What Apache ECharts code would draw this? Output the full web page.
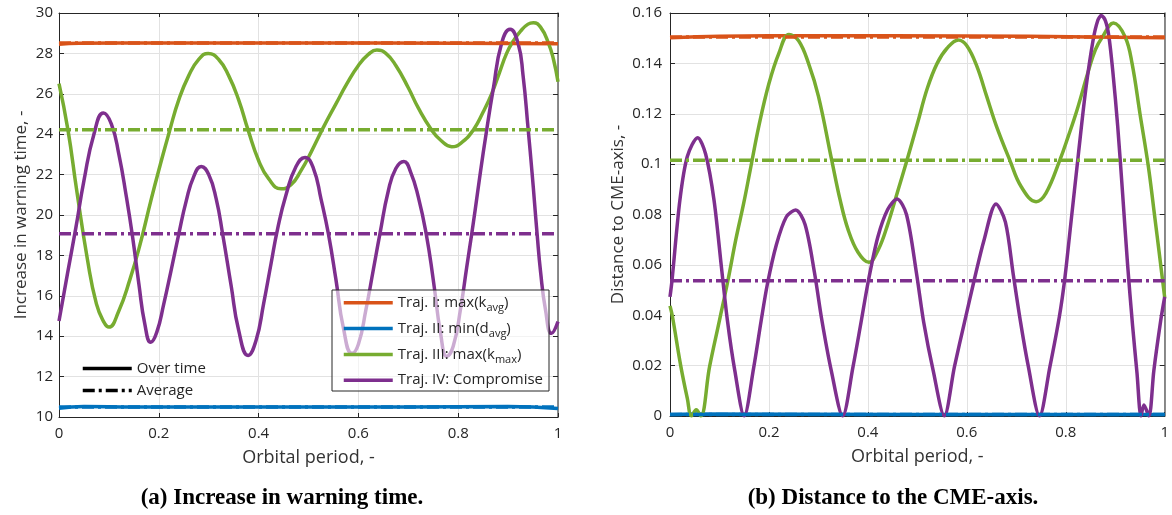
<!DOCTYPE html>
<html><head><meta charset="utf-8">
<script src="https://cdn.jsdelivr.net/npm/echarts@6/dist/echarts.min.js"></script>
<style>html,body{margin:0;padding:0;background:#fff}#c{width:1172px;height:515px}</style>
</head><body><div id="c"></div>
<script>
// ---------- data ----------
const trajNames = ['Traj. I: max(k_avg)', 'Traj. II: min(d_avg)', 'Traj. III: max(k_max)', 'Traj. IV: Compromise'];
const trajRich = ['{t|Traj. I: max(k}{s|avg}{t|)}', '{t|Traj. II: min(d}{s|avg}{t|)}', '{t|Traj. III: max(k}{s|max}{t|)}', '{t|Traj. IV: Compromise}'];
const styleNames = ['Over time', 'Average'];
const colors = ['#D95319', '#0072BD', '#77AC30', '#7E2F8E'];

// (a) increase in warning time  [orbital period, value]
const warnI = [[0,28.45],[0.04,28.5],[0.2,28.52],[0.5,28.52],[0.8,28.5],[1,28.48]];
const warnII = [[0,10.43],[0.05,10.52],[0.15,10.5],[0.4,10.5],[0.7,10.5],[0.9,10.52],[1,10.42]];
const warnIII = [[0,26.5],[0.018,24.2],[0.035,21.3],[0.057,17.8],[0.075,15.6],[0.09,14.7],[0.10,14.45],[0.119,15.2],[0.142,16.8],[0.162,18.5],[0.185,20.8],[0.202,22.4],[0.222,24.2],[0.24,25.7],[0.26,26.9],[0.28,27.7],[0.299,28.0],[0.32,27.7],[0.34,26.9],[0.36,25.7],[0.379,24.2],[0.40,22.7],[0.42,21.8],[0.445,21.3],[0.465,21.5],[0.485,22.2],[0.505,23.1],[0.529,24.3],[0.555,25.5],[0.577,26.5],[0.60,27.4],[0.62,27.95],[0.637,28.17],[0.655,28.0],[0.675,27.4],[0.70,26.3],[0.72,25.3],[0.747,24.2],[0.765,23.7],[0.787,23.38],[0.805,23.55],[0.83,24.2],[0.85,25.1],[0.867,26.0],[0.882,27.0],[0.897,28.0],[0.91,28.6],[0.925,29.1],[0.94,29.45],[0.9506,29.52],[0.965,29.3],[0.981,28.5],[0.991,27.7],[1,26.6]];
const warnIV = [[0,14.75],[0.017,17.1],[0.034,19.4],[0.05,21.7],[0.07,24.0],[0.089,25.05],[0.105,24.5],[0.12,23.0],[0.135,20.9],[0.147,19.0],[0.16,16.6],[0.172,14.6],[0.184,13.7],[0.196,14.2],[0.21,15.6],[0.225,17.3],[0.24,19.05],[0.255,20.7],[0.27,21.9],[0.285,22.4],[0.30,22.0],[0.315,20.8],[0.328,19.05],[0.345,16.5],[0.36,14.3],[0.379,13.05],[0.395,13.8],[0.41,15.6],[0.425,17.6],[0.438,19.3],[0.455,21.0],[0.475,22.4],[0.493,22.85],[0.51,22.3],[0.525,20.8],[0.54,19.05],[0.555,16.8],[0.57,14.4],[0.587,13.15],[0.60,13.6],[0.615,15.3],[0.63,17.3],[0.643,19.05],[0.66,21.2],[0.675,22.3],[0.691,22.65],[0.705,22.1],[0.72,20.9],[0.736,19.05],[0.75,16.8],[0.765,14.1],[0.777,13.0],[0.79,13.5],[0.805,15.4],[0.817,17.4],[0.827,19.05],[0.834,20.25],[0.844,22.03],[0.857,24.2],[0.870,26.2],[0.887,28.5],[0.904,29.19],[0.92,28.5],[0.93,26.9],[0.94,24.3],[0.948,22.1],[0.953,20.6],[0.958,19.1],[0.965,17.2],[0.975,15.3],[0.987,14.14],[1,14.72]];
const warnAvg = [28.52, 10.5, 24.22, 19.07];

// (b) distance to the CME-axis
const distI = [[0,0.1502],[0.1,0.1508],[0.3,0.151],[0.6,0.1509],[0.85,0.1505],[1,0.1502]];
const distII = [[0,0.0006],[0.05,0.0008],[0.5,0.0006],[1,0.0006]];
const distIII = [[0,0.0437],[0.005,0.0394],[0.022,0.0196],[0.035,0.007],[0.0435,0],[0.053,0.0025],[0.062,0],[0.08,0.0196],[0.1,0.038],[0.117,0.0537],[0.133,0.070],[0.149,0.0845],[0.162,0.0975],[0.18,0.1155],[0.20,0.132],[0.22,0.144],[0.2405,0.1515],[0.26,0.149],[0.28,0.140],[0.30,0.127],[0.327,0.1015],[0.344,0.0857],[0.36,0.074],[0.38,0.065],[0.402,0.061],[0.421,0.066],[0.44,0.076],[0.46,0.089],[0.479,0.1015],[0.50,0.116],[0.52,0.130],[0.54,0.140],[0.56,0.146],[0.583,0.1493],[0.60,0.147],[0.62,0.139],[0.64,0.127],[0.66,0.115],[0.687,0.1015],[0.71,0.091],[0.74,0.0851],[0.76,0.0885],[0.788,0.1016],[0.805,0.111],[0.822,0.121],[0.845,0.1365],[0.86,0.1455],[0.874,0.1505],[0.8965,0.156],[0.92,0.1505],[0.934,0.140],[0.95,0.120],[0.967,0.099],[0.978,0.082],[0.99,0.063],[1,0.047]];
const distIV = [[0,0.0473],[0.004,0.0537],[0.02,0.0857],[0.035,0.103],[0.056,0.1105],[0.072,0.104],[0.089,0.0857],[0.104,0.0590],[0.116,0.0380],[0.131,0.0180],[0.150,0],[0.169,0.019],[0.184,0.0375],[0.197,0.0525],[0.215,0.068],[0.235,0.079],[0.254,0.0818],[0.273,0.076],[0.292,0.0570],[0.307,0.0380],[0.326,0.0180],[0.349,0],[0.370,0.0196],[0.386,0.037],[0.401,0.0537],[0.42,0.071],[0.44,0.082],[0.459,0.0862],[0.478,0.080],[0.498,0.0570],[0.513,0.037],[0.532,0.0180],[0.5545,0],[0.575,0.0196],[0.595,0.037],[0.6146,0.0537],[0.635,0.070],[0.659,0.0842],[0.678,0.077],[0.694,0.0560],[0.708,0.038],[0.724,0.0200],[0.747,0],[0.768,0.0196],[0.787,0.0394],[0.798,0.0545],[0.81,0.076],[0.825,0.103],[0.84,0.129],[0.855,0.149],[0.865,0.1572],[0.872,0.159],[0.880,0.157],[0.887,0.151],[0.895,0.137],[0.905,0.115],[0.915,0.088],[0.925,0.060],[0.935,0.036],[0.944,0.017],[0.952,0],[0.958,0.0044],[0.968,0],[0.978,0.018],[0.992,0.038],[1,0.0473]];
const distAvg = [0.1505, 0.0006, 0.1015, 0.0537];

const xAxisRange = [0, 1, 0.2];
const warnRange = [10, 30, 2];
const distRange = [0, 0.16, 0.02];
const xTitle = 'Orbital period, -';
const yTitles = ['Increase in warning time, -', 'Distance to CME-axis, -'];
const captions = ['(a) Increase in warning time.', '(b) Distance to the CME-axis.'];

// ---------- chart ----------
const FONT = '"Open Sans", "Noto Sans", sans-serif';
const TXT = '#262626';
const GRIDC = '#e2e2e2';
const DASHDOT = [12, 4, 3, 4];
const LW = 3.5;

function xAx(gi, pos, range, labels) {
  return {
    type: 'value', gridIndex: gi, position: pos, min: range[0], max: range[1], interval: range[2],
    name: labels ? xTitle : '', nameLocation: 'middle', nameGap: 32,
    nameTextStyle: {fontFamily: FONT, fontSize: 18, color: '#333'},
    axisLine: {show: true, onZero: false, lineStyle: {color: TXT, width: 1}},
    axisTick: {show: true, inside: true, length: 4, lineStyle: {color: TXT}},
    axisLabel: {show: labels, margin: 9, fontFamily: FONT, fontSize: 15, color: TXT},
    splitLine: {show: labels, lineStyle: {color: GRIDC, width: 1}}
  };
}
function yAx(gi, pos, range, labels, title, gap, margin) {
  return {
    type: 'value', gridIndex: gi, position: pos, min: range[0], max: range[1], interval: range[2],
    name: labels ? title : '', nameLocation: 'middle', nameGap: gap,
    nameTextStyle: {fontFamily: FONT, fontSize: 17, color: '#333'},
    axisLine: {show: true, onZero: false, lineStyle: {color: labels ? TXT : '#666', width: labels ? 1 : 1.5}},
    axisTick: {show: true, inside: true, length: 5, lineStyle: {color: TXT}},
    axisLabel: {show: labels, margin: margin, fontFamily: FONT, fontSize: 15, color: TXT},
    splitLine: {show: labels, lineStyle: {color: GRIDC, width: 1}}
  };
}
function curve(name, data, color, xi, yi, smooth) {
  return {type: 'line', name, data, xAxisIndex: xi, yAxisIndex: yi, symbol: 'none', smooth,
    lineStyle: {color, width: LW}, itemStyle: {color}, animation: false, z: 3};
}
function avgLine(name, v, color, xi, yi) {
  return {type: 'line', name, data: [[0, v], [1, v]], xAxisIndex: xi, yAxisIndex: yi, symbol: 'none',
    lineStyle: {color, width: LW, type: DASHDOT}, itemStyle: {color}, animation: false, z: 3};
}

const warnSeries = [warnI, warnII, warnIII, warnIV];
const distSeries = [distI, distII, distIII, distIV];
const series = [];
for (let i = 0; i < 4; i++) series.push(curve(trajNames[i], warnSeries[i], colors[i], 0, 0, 0.5));
for (let i = 0; i < 4; i++) series.push(avgLine('avgA' + i, warnAvg[i], colors[i], 0, 0));
for (let i = 0; i < 4; i++) series.push(curve(trajNames[i], distSeries[i], colors[i], 2, 2, i === 3 ? 0.3 : 0.4));
for (let i = 0; i < 4; i++) series.push(avgLine('avgB' + i, distAvg[i], colors[i], 2, 2));
series.push({type: 'line', name: styleNames[0], data: [], xAxisIndex: 0, yAxisIndex: 0, symbol: 'none', lineStyle: {color: '#000', width: LW}, itemStyle: {color: '#000'}});
series.push({type: 'line', name: styleNames[1], data: [], xAxisIndex: 0, yAxisIndex: 0, symbol: 'none', lineStyle: {color: '#000', width: LW, type: DASHDOT}, itemStyle: {color: '#000'}});

const chart = echarts.init(document.getElementById('c'));
chart.setOption({
  animation: false,
  backgroundColor: '#fff',
  grid: [
    {left: 59, right: 614, top: 13, bottom: 98},
    {left: 670, right: 3, top: 13, bottom: 99}
  ],
  xAxis: [xAx(0, 'bottom', xAxisRange, true), xAx(0, 'top', xAxisRange, false),
          xAx(1, 'bottom', xAxisRange, true), xAx(1, 'top', xAxisRange, false)],
  yAxis: [yAx(0, 'left', warnRange, true, yTitles[0], 29, 6), yAx(0, 'right', warnRange, false),
          yAx(1, 'left', distRange, true, yTitles[1], 43, 8), yAx(1, 'right', distRange, false)],
  legend: [
    {data: trajNames, orient: 'vertical', left: 332, top: 290, selectedMode: false,
     itemWidth: 49, itemHeight: 22, itemGap: 6, padding: [4, 6, 2, 10],
     backgroundColor: 'rgba(255,255,255,0.6)', borderColor: TXT, borderWidth: 1, borderRadius: 0,
     itemStyle: {opacity: 0}, lineStyle: {width: LW},
     formatter: name => trajRich[trajNames.indexOf(name)],
     textStyle: {color: TXT, fontFamily: FONT, rich: {
       t: {fontSize: 15, fontFamily: FONT, color: TXT, lineHeight: 22, verticalAlign: 'middle'},
       s: {fontSize: 11, fontFamily: FONT, color: TXT, lineHeight: 11, verticalAlign: 'bottom'}
     }}},
    {data: styleNames, orient: 'vertical', left: 81, top: 361, selectedMode: false,
     itemWidth: 49, itemHeight: 14, itemGap: 7, padding: 0,
     itemStyle: {opacity: 0}, lineStyle: {width: LW},
     textStyle: {color: TXT, fontFamily: FONT, fontSize: 15, lineHeight: 14}}
  ],
  graphic: [
    {type: 'text', x: 282, y: 498, style: {text: captions[0], fontFamily: '"Liberation Serif", serif', fontWeight: 'bold', fontSize: 23, fill: '#000', align: 'center', verticalAlign: 'middle'}},
    {type: 'text', x: 893, y: 498, style: {text: captions[1], fontFamily: '"Liberation Serif", serif', fontWeight: 'bold', fontSize: 23, fill: '#000', align: 'center', verticalAlign: 'middle'}}
  ],
  series
});
</script>
</body></html>
